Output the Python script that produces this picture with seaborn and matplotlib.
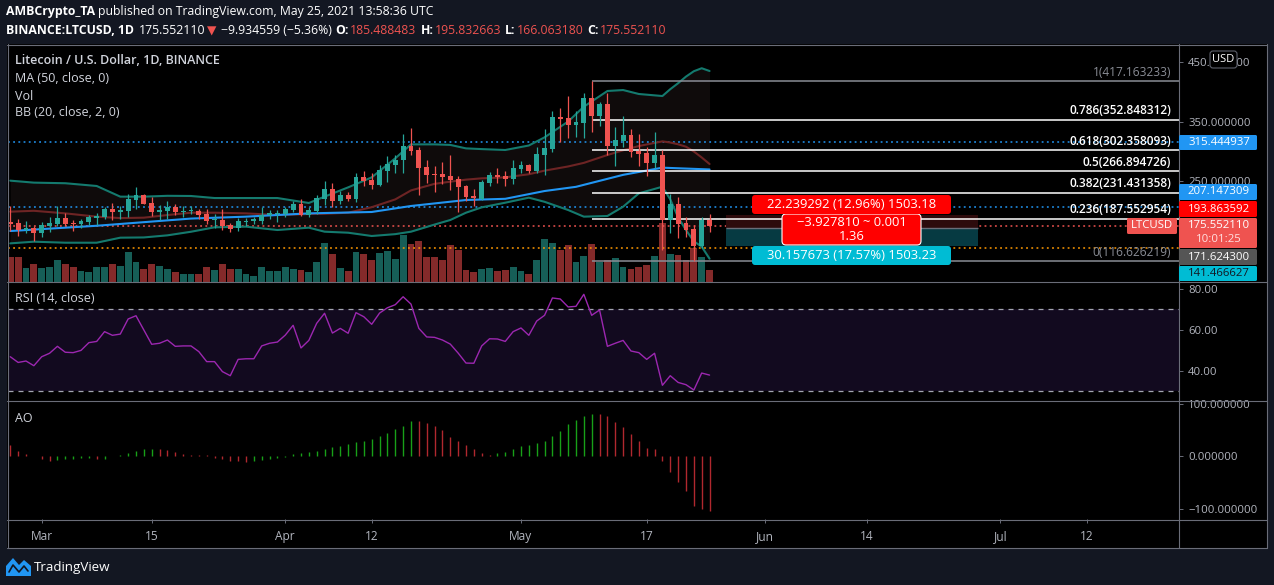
import numpy as np
import pandas as pd
import matplotlib
matplotlib.use("Agg")
import matplotlib.pyplot as plt
from matplotlib.lines import Line2D
from matplotlib.patches import Rectangle, FancyBboxPatch, Polygon
from matplotlib.transforms import IdentityTransform
import seaborn as sns

W, H = 1274, 585

# ── data (LTCUSD 1D, Binance) ────────────────────────────────
start_day = "2021-02-25"
opens = [182.8, 180.6, 168.9, 172.2, 164.5, 175.6, 179.5, 189.0, 180.6, 179.5,
         182.3, 189.5, 191.2, 203.4, 199.5, 200.6, 219.5, 227.3, 214.5, 199.5,
         200.6, 207.3, 199.8, 200.3, 200.6, 195.6, 185.6, 185.6, 177.3, 172.2,
         182.2, 183.9, 183.9, 193.4, 195.0, 195.6, 202.3, 212.3, 193.9, 200.6,
         220.6, 237.4, 217.3, 227.3, 220.7, 257.4, 252.4, 244.0, 267.4, 277.4,
         285.8, 309.1, 302.5, 274.1, 262.4, 262.4, 259.1, 254.0, 242.4, 225.7,
         220.7, 247.4, 260.7, 259.1, 254.0, 270.8, 277.4, 267.4, 294.1, 304.1,
         357.6, 355.9, 344.2, 347.5, 389.3, 359.2, 379.2, 309.1, 317.5, 327.5,
         300.8, 297.5, 280.7, 294.1, 185.6, 212.3, 180.6, 170.6, 142.2, 185.49]
highs = [209.0, 187.3, 184.5, 175.0, 182.8, 190.6, 209.0, 197.3, 185.6, 187.3,
         194.0, 198.0, 207.3, 214.0, 209.0, 229.0, 240.7, 229.0, 224.0, 210.7,
         217.3, 211.8, 209.0, 209.0, 203.9, 203.9, 195.6, 203.9, 180.6, 188.9,
         188.9, 190.0, 207.3, 202.3, 202.3, 207.3, 217.3, 220.7, 206.7, 227.3,
         250.7, 247.4, 234.0, 232.3, 264.1, 267.4, 264.1, 277.4, 292.4, 294.1,
         329.2, 339.2, 307.5, 285.8, 275.7, 282.4, 294.1, 259.1, 243.5, 237.4,
         252.4, 265.7, 272.4, 267.4, 285.8, 284.1, 279.1, 307.5, 337.5, 367.6,
         372.6, 392.6, 367.6, 397.6, 417.16, 382.6, 397.6, 340.9, 359.2, 337.5,
         329.2, 307.5, 332.5, 302.5, 229.0, 224.0, 190.6, 177.2, 190.6, 195.83]
lows = [167.2, 159.4, 164.5, 151.1, 157.8, 166.1, 175.6, 175.6, 167.2, 172.8,
        177.3, 177.3, 187.3, 185.6, 187.3, 191.2, 204.5, 211.8, 192.3, 185.6,
        187.8, 194.0, 190.0, 195.6, 187.3, 178.9, 172.2, 168.9, 165.6, 167.2,
        175.6, 178.9, 178.9, 187.3, 182.2, 190.6, 198.9, 193.0, 190.6, 195.6,
        210.6, 207.3, 212.3, 217.3, 215.6, 242.4, 237.4, 242.4, 249.0, 264.1,
        264.1, 294.1, 227.3, 247.4, 232.3, 246.3, 235.7, 198.9, 217.3, 209.0,
        219.0, 242.4, 247.4, 242.4, 246.3, 264.1, 264.1, 264.1, 260.7, 299.1,
        315.8, 322.5, 324.2, 322.5, 332.5, 342.5, 294.1, 275.7, 307.5, 290.8,
        275.7, 259.1, 272.4, 135.5, 163.9, 155.5, 157.2, 116.63, 138.8, 166.06]
closes = [179.5, 168.9, 172.2, 164.5, 177.3, 180.6, 189.0, 179.5, 179.5, 183.9,
          190.6, 192.3, 203.4, 199.5, 202.3, 221.2, 226.8, 212.9, 199.5, 202.3,
          207.3, 199.0, 200.6, 200.9, 193.9, 183.9, 187.3, 175.6, 171.1, 183.9,
          183.9, 186.7, 193.9, 196.7, 196.7, 203.9, 212.3, 193.9, 202.3, 222.3,
          237.4, 217.3, 227.3, 220.7, 257.4, 250.7, 244.6, 269.1, 279.1, 285.8,
          309.1, 300.8, 272.4, 260.7, 260.7, 257.4, 252.4, 240.7, 224.0, 222.3,
          249.0, 260.7, 257.4, 254.0, 272.4, 277.4, 267.4, 295.8, 305.8, 357.6,
          354.2, 344.2, 349.2, 389.3, 359.2, 379.2, 309.1, 319.2, 327.5, 299.1,
          295.8, 280.7, 294.1, 185.6, 212.3, 178.9, 168.9, 142.2, 185.5, 175.55]
volume = [500, 500, 280, 360, 280, 300, 440, 360, 300, 220,
          200, 300, 300, 360, 320, 600, 400, 260, 360, 320,
          260, 200, 160, 160, 160, 300, 240, 360, 260, 260,
          160, 120, 300, 220, 220, 300, 260, 240, 200, 400,
          780, 560, 280, 220, 600, 560, 440, 580, 620, 460,
          940, 760, 820, 500, 500, 440, 740, 640, 240, 200,
          260, 280, 220, 240, 300, 220, 160, 440, 860, 780,
          640, 740, 400, 520, 760, 400, 440, 480, 300, 260,
          300, 340, 520, 1180, 560, 540, 440, 680, 500, 240]

ma50_x = [0, 11, 23, 30, 38, 46, 51, 58, 63, 68, 72, 78, 83, 89]
ma50 = [167.2, 176.0, 188.0, 191.2, 196.7, 199.0, 209.0, 219.0, 221.0, 234.0,
        241.0, 261.0, 273.0, 270.0]

bb_x = [0, 3, 7, 11, 14, 17, 20, 23, 26, 30, 34, 38, 40, 43, 46, 49, 51, 54,
        56, 58, 60, 63, 66, 68, 71, 73, 76, 78, 80, 83, 84, 85, 86, 87, 88, 89]
bb_upper = [251.3, 248.0, 247.0, 242.4, 224.6, 224.6, 226.0, 225.7, 222.3, 222.3,
            222.3, 214.0, 224.6, 240.1, 256.8, 288.6, 311.9, 311.9, 311.0, 305.2,
            304.0, 302.5, 310.0, 323.6, 350.0, 374.8, 401.0, 402.6, 396.0, 392.6,
            404.0, 414.0, 425.0, 434.0, 439.0, 434.4]
bb_basis = [199.5, 201.0, 196.7, 191.2, 188.8, 189.5, 193.9, 197.8, 197.8, 196.7,
            193.9, 195.6, 196.0, 197.8, 207.0, 220.0, 235.0, 246.0, 249.6, 253.0,
            255.2, 256.8, 262.0, 268.0, 275.0, 281.0, 294.1, 302.0, 309.1, 316.9,
            315.0, 312.0, 308.0, 300.0, 290.0, 279.1]
bb_lower = [146.6, 149.4, 147.7, 147.7, 156.1, 156.5, 160.0, 166.0, 173.4, 174.5,
            168.9, 172.8, 166.1, 164.4, 158.9, 162.0, 166.1, 178.0, 185.6, 197.8,
            206.7, 214.5, 222.9, 216.0, 202.3, 191.2, 192.3, 207.8, 230.1, 241.2,
            220.0, 190.0, 168.9, 150.0, 141.1, 121.0]

rsi = [46.8, 44.0, 44.7, 42.4, 46.8, 48.5, 51.9, 49.0, 48.8, 49.9,
       53.7, 54.3, 59.1, 57.3, 57.9, 65.3, 66.9, 59.9, 52.9, 53.4,
       55.0, 51.9, 52.1, 52.1, 49.3, 44.4, 44.4, 39.5, 37.5, 45.5,
       45.8, 45.8, 52.1, 53.4, 54.0, 57.4, 62.2, 51.1, 54.8, 63.2,
       68.1, 58.4, 60.7, 58.3, 68.4, 66.4, 62.7, 68.2, 70.8, 72.3,
       76.2, 72.6, 60.7, 56.5, 56.3, 55.0, 53.0, 48.6, 43.7, 43.6,
       52.1, 55.6, 55.5, 54.3, 59.1, 60.9, 57.3, 64.3, 67.1, 75.6,
       75.1, 71.2, 71.5, 77.4, 67.1, 69.7, 51.9, 53.4, 54.8, 49.6,
       48.8, 45.5, 48.5, 32.8, 37.5, 34.2, 33.1, 30.5, 38.8, 37.8]

ao = [21.7, 10.2, 4.5, 0.6, -4.5, -8.3, -7.0, -5.1, -4.5, -3.8,
      -3.6, -5.1, -4.5, 1.3, 2.5, 7.0, 10.2, 14.0, 14.5, 13.8,
      11.5, 8.3, 4.5, 2.5, 2.3, 1.9, -2.5, -5.7, -8.3, -9.6,
      -10.8, -9.6, -7.6, -4.5, -2.5, -0.6, 4.5, 7.0, 7.6, 10.8,
      14.6, 17.8, 20.4, 24.2, 28.0, 29.3, 33.1, 38.9, 44.6, 52.2,
      58.6, 67.5, 66.9, 63.7, 58.0, 50.3, 37.6, 29.3, 21.0, 14.0,
      7.0, 2.5, 7.0, 8.9, 14.0, 19.7, 22.3, 24.8, 29.9, 38.9,
      48.4, 61.8, 69.4, 77.1, 81.5, 80.5, 76.4, 65.6, 56.7, 42.7,
      29.3, 16.6, 14.0, -9.6, -29.3, -49.0, -65.6, -94.9, -101.3, -104.5]

fib_levels = ["1", "0.786", "0.618", "0.5", "0.382", "0.236", "0"]
fib_prices = [417.163233, 352.848312, 302.358093, 266.894726, 231.431358, 187.552954, 116.626219]

last_price = 175.552110
alert_hi = 315.444937
alert_mid = 207.147309
low_line = 139.0
pos_stop = 193.863592
pos_entry = 171.624300
pos_target = 141.466627

tick_dates = ["2021-03-01", "2021-03-15", "2021-04-01", "2021-04-12", "2021-05-01",
              "2021-05-17", "2021-06-01", "2021-06-14", "2021-07-01", "2021-07-12"]
tick_names = ["Mar", "15", "Apr", "12", "May", "17", "Jun", "14", "Jul", "12"]

# ── colours ─────────────────────────────────────────────────
BG = "#131722"
FRAME = "#6a6d78"
TXT = "#d1d4dc"
AXT = "#b2b5be"
UP, DN = "#26a69a", "#ef5350"
VUP, VDN = "#165e57", "#842a2a"
AXFS = 8.2

sns.set_theme(style="dark", rc={"axes.facecolor": "black", "figure.facecolor": BG,
                                "axes.edgecolor": FRAME, "text.color": TXT,
                                "xtick.color": AXT, "ytick.color": AXT})
plt.rcParams["font.family"] = ["Open Sans", "DejaVu Sans"]

idx = np.arange(len(opens))
o, h, l, c = map(np.array, (opens, highs, lows, closes))
up = c >= o

fig = plt.figure(figsize=(W / 100, H / 100), dpi=100)
ID = IdentityTransform()


def fpos(x0, y0, x1, y1):
    return [x0 / W, 1 - y1 / H, (x1 - x0) / W, (y1 - y0) / H]


def fline(x0, y0, x1, y1, color=FRAME, lw=0.8, z=5):
    fig.add_artist(Line2D([x0 / W, x1 / W], [1 - y0 / H, 1 - y1 / H],
                          transform=fig.transFigure, color=color, lw=lw, zorder=z))


def pbox(x0, y0, x1, y1, fc, ec="none", lw=0, r=0, z=6):
    style = f"round,pad=0,rounding_size={r}" if r else "square,pad=0"
    fig.add_artist(FancyBboxPatch((x0, H - y1), x1 - x0, y1 - y0, boxstyle=style,
                                  fc=fc, ec=ec, lw=lw, transform=ID, zorder=z))


def ptext(x, y, s, z=7, **kw):
    kw.setdefault("va", "center")
    kw.setdefault("fontsize", AXFS)
    fig.text(x / W, 1 - y / H, s, zorder=z, **kw)


fig.add_artist(Rectangle((7 / W, 1 - 548 / H), 1260 / W, 504 / H, transform=fig.transFigure,
                         facecolor="black", edgecolor="none", zorder=-5))

XMIN, XMAX = -0.29, 148.75

ax_vol = fig.add_axes(fpos(8, 45, 1179, 282))
ax = fig.add_axes(fpos(8, 45, 1179, 282), sharex=ax_vol)
ax_rsi = fig.add_axes(fpos(8, 282, 1179, 401), sharex=ax_vol)
ax_ao = fig.add_axes(fpos(8, 401, 1179, 519), sharex=ax_vol)
ax.set_facecolor("none")
ax.set_zorder(1)

for a in (ax_vol, ax, ax_rsi, ax_ao):
    a.grid(False)
    for s in a.spines.values():
        s.set_visible(False)
    a.tick_params(axis="x", bottom=False, labelbottom=False)
    a.yaxis.tick_right()
    a.tick_params(axis="y", left=False, labelleft=False, right=True, labelright=True,
                  length=3, width=0.7, pad=3.5, color=FRAME, labelcolor=AXT, labelsize=AXFS)

# ── volume ──────────────────────────────────────────────────
ax_vol.bar(idx, volume, width=0.86, color=np.where(up, VUP, VDN), linewidth=0)
ax_vol.set_ylim(0, 4740)
ax_vol.tick_params(axis="y", right=False, labelright=False)

# ── price panel ─────────────────────────────────────────────
ax.fill_between(bb_x, bb_lower, bb_upper, color="#0f0b0b", linewidth=0, zorder=0.5)
sns.lineplot(x=bb_x, y=bb_upper, ax=ax, color="#147a6e", linewidth=1.5, zorder=2)
sns.lineplot(x=bb_x, y=bb_lower, ax=ax, color="#147a6e", linewidth=1.5, zorder=2)
sns.lineplot(x=bb_x, y=bb_basis, ax=ax, color="#6d2424", linewidth=1.5, zorder=2)
sns.lineplot(x=ma50_x, y=ma50, ax=ax, color="#2196f3", linewidth=1.5, zorder=2)

dots = (0, (1.2, 2.2))
ax.axhline(alert_hi, color="#2196f3", lw=1.1, ls=dots, zorder=1)
ax.axhline(alert_mid, color="#2196f3", lw=1.1, ls=dots, zorder=1)
ax.axhline(last_price, color=DN, lw=1.1, ls=dots, zorder=1)
ax.axhline(low_line, color="#ff9800", lw=1.1, ls=dots, zorder=1)

ax.vlines(idx, l, h, colors=np.where(up, UP, DN), lw=0.9, zorder=3)
body = np.maximum(np.abs(c - o), 1.6)
ax.bar(idx, body, bottom=np.minimum(o, c), width=0.62, color=np.where(up, UP, DN),
       linewidth=0, zorder=3.1)

# fibonacci retracement
for lev, pr in zip(fib_levels, fib_prices):
    edge = lev in ("1", "0")
    col = "#8a8d96" if edge else "white"
    ax.hlines(pr, 74, XMAX, color=col, lw=1.1, zorder=2.5)
    ax.annotate(f"{lev}({pr:.6f})", xy=(1, pr), xycoords=("axes fraction", "data"),
                xytext=(-8, 9), textcoords="offset pixels", ha="right", va="center",
                color=col, fontsize=8.6, fontweight="normal" if edge else "semibold", zorder=4)

# short position tool
ax.add_patch(Rectangle((91.1, pos_entry), 32.1, pos_stop - pos_entry, fc="#2d0b0c", ec="none", zorder=1.2))
ax.add_patch(Rectangle((91.1, pos_target), 32.1, pos_entry - pos_target, fc="#063a42", ec="none", zorder=1.2))
ax.hlines(pos_entry, 91.1, 123.2, color="#6a6d78", lw=1, zorder=1.3)

ax.set_xlim(XMIN, XMAX)
ax.set_ylim(82.1, 477.8)
ax.set_yticks([250, 350, 450])
ax.set_yticklabels([f"{v:.6f}" for v in (250, 350, 450)])
ax.set_xlabel("")
ax.set_ylabel("")

# ── RSI ─────────────────────────────────────────────────────
ax_rsi.axhspan(30, 70, color="#120a1f", lw=0, zorder=0)
for lvl in (70, 30):
    ax_rsi.axhline(lvl, color="#a3a6af", lw=0.9, ls=(0, (4, 4)), zorder=1)
sns.lineplot(x=idx, y=rsi, ax=ax_rsi, color="#9c27b0", linewidth=1.0, zorder=2)
ax_rsi.set_ylim(25.1, 83.43)
ax_rsi.set_yticks([40, 60, 80])
ax_rsi.set_yticklabels(["40.00", "60.00", "80.00"])
ax_rsi.set_xlabel("")
ax_rsi.set_ylabel("")

# ── Awesome Oscillator ──────────────────────────────────────
ao_arr = np.array(ao)
ao_up = np.r_[False, np.diff(ao_arr) >= 0]
ax_ao.vlines(idx, 0, ao_arr, colors=np.where(ao_up, "#18a018", "#b0282e"), lw=1.0)
ax_ao.set_ylim(-119.9, 105.7)
ax_ao.set_yticks([100, 0, -100])
ax_ao.set_yticklabels(["100.000000", "0.000000", "\u2212100.000000"])
d0 = pd.Timestamp(start_day)
tick_pos = [(pd.Timestamp(d) - d0).days for d in tick_dates]
ax_ao.set_xticks(tick_pos)
ax_ao.set_xticklabels(tick_names)
ax_ao.tick_params(axis="x", bottom=True, labelbottom=True, direction="out", length=3,
                  width=0.7, color=FRAME, labelcolor=AXT, labelsize=8.6, pad=5)
ax_ao.set_xlim(XMIN, XMAX)

# ── frame lines ─────────────────────────────────────────────
fline(7, 44.5, 1267, 44.5)
fline(7, 547.5, 1267, 547.5)
fline(7.5, 44, 7.5, 548)
fline(1266.5, 44, 1266.5, 548)
fline(1179, 44, 1179, 548)
for yy in (282, 401, 519.5):
    fline(7, yy, 1267, yy)

# ── header ──────────────────────────────────────────────────
renderer = fig.canvas.get_renderer()


def runs(x, y, parts, size=8.8):
    for txt, col, wt, gap in parts:
        t = fig.text(x / W, 1 - y / H, txt, color=col, fontsize=size, fontweight=wt,
                     va="center", ha="left")
        x = t.get_window_extent(renderer=renderer).x1 + gap


runs(6, 12, [("AMBCrypto_TA", "white", "bold", 3),
             ("published on TradingView.com, May 25, 2021 13:58:36 UTC", "white", "normal", 0)])
runs(6, 31, [("BINANCE:LTCUSD, 1D", "white", "bold", 5),
             ("175.552110", "white", "normal", 1),
             ("\u25bc", DN, "normal", 5),
             ("\u22129.934559 (\u22125.36%)", "white", "normal", 4),
             ("O:", "white", "bold", 1), ("185.488483", DN, "normal", 4),
             ("H:", "white", "bold", 1), ("195.832663", DN, "normal", 4),
             ("L:", "white", "bold", 1), ("166.063180", DN, "normal", 4),
             ("C:", "white", "bold", 1), ("175.552110", DN, "normal", 0)])

# legend lines inside the chart
ptext(15, 61, "Litecoin / U.S. Dollar, 1D, BINANCE", color=TXT, fontsize=9, fontweight="semibold")
ptext(15, 79, "MA (50, close, 0)", color=TXT, fontsize=9)
ptext(15, 96, "Vol", color=TXT, fontsize=9)
ptext(15, 112, "BB (20, close, 2, 0)", color=TXT, fontsize=9)
ptext(15, 299, "RSI (14, close)", color=TXT, fontsize=9)
ptext(15, 418, "AO", color=TXT, fontsize=9)

# ── price scale labels ──────────────────────────────────────
pbox(1210, 51, 1237, 68, "black", ec="#5d606b", lw=0.8, r=3)
ptext(1223.5, 59.5, "USD", color="white", ha="center", fontsize=8)
scale_tags = [(135, 150, "315.444937", "#2196f3", "white"),
              (184, 200, "207.147309", "#2196f3", "white"),
              (201, 217, "193.863592", "#ff0000", "white"),
              (249, 265, "171.624300", "#555555", "white"),
              (266, 281, "141.466627", "#00bcd4", BG)]
for y0, y1, s, fc, tc in scale_tags:
    pbox(1179, y0, 1257, y1, fc, r=1.5)
    ptext(1219, (y0 + y1) / 2, s, color=tc, ha="center")
pbox(1179, 218, 1257, 248, DN, r=1.5)
ptext(1219, 226, "175.552110", color="white", ha="center")
ptext(1219, 240, "10:01:25", color="#ffe0e0", ha="center")
pbox(1127, 218, 1177, 234, DN, r=1.5)
ptext(1152, 226, "LTCUSD", color="white", ha="center")

# position tool labels
pbox(782, 214, 921, 245, "#ff0000", ec="white", lw=0.8, r=4, z=6)
ptext(851.5, 222, "\u22123.927810 ~ 0.001", color="white", ha="center", fontsize=9.4, z=6.5)
ptext(851.5, 237, "1.36", color="white", ha="center", fontsize=9.4, z=6.5)
pbox(752, 195, 951, 214, "#ff0000", r=3, z=7)
ptext(851.5, 204.5, "22.239292 (12.96%) 1503.18", color="white", ha="center", fontsize=9.4, z=8)
pbox(752, 246, 951, 265, "#00bcd4", r=3, z=7)
ptext(851.5, 255.5, "30.157673 (17.57%) 1503.23", color="white", ha="center", fontsize=9.4, z=8)

# ── footer logo ─────────────────────────────────────────────
logo = [(6, 576), (6, 566), (13, 558), (19, 565), (24, 560), (31, 566), (31, 576)]
fig.add_artist(Polygon([(x, H - y) for x, y in logo], closed=True, fc="#2196f3", ec="none",
                       transform=ID, zorder=6))
zig = [(9, 572), (13, 565), (19, 572), (24, 566), (28, 571)]
fig.add_artist(Line2D([x for x, _ in zig], [H - y for _, y in zig], color=BG, lw=1.2,
                      transform=ID, zorder=7))
ptext(34, 567, "TradingView", color="white", fontsize=9.6)

fig.savefig("out.png", dpi=100, facecolor=BG)
